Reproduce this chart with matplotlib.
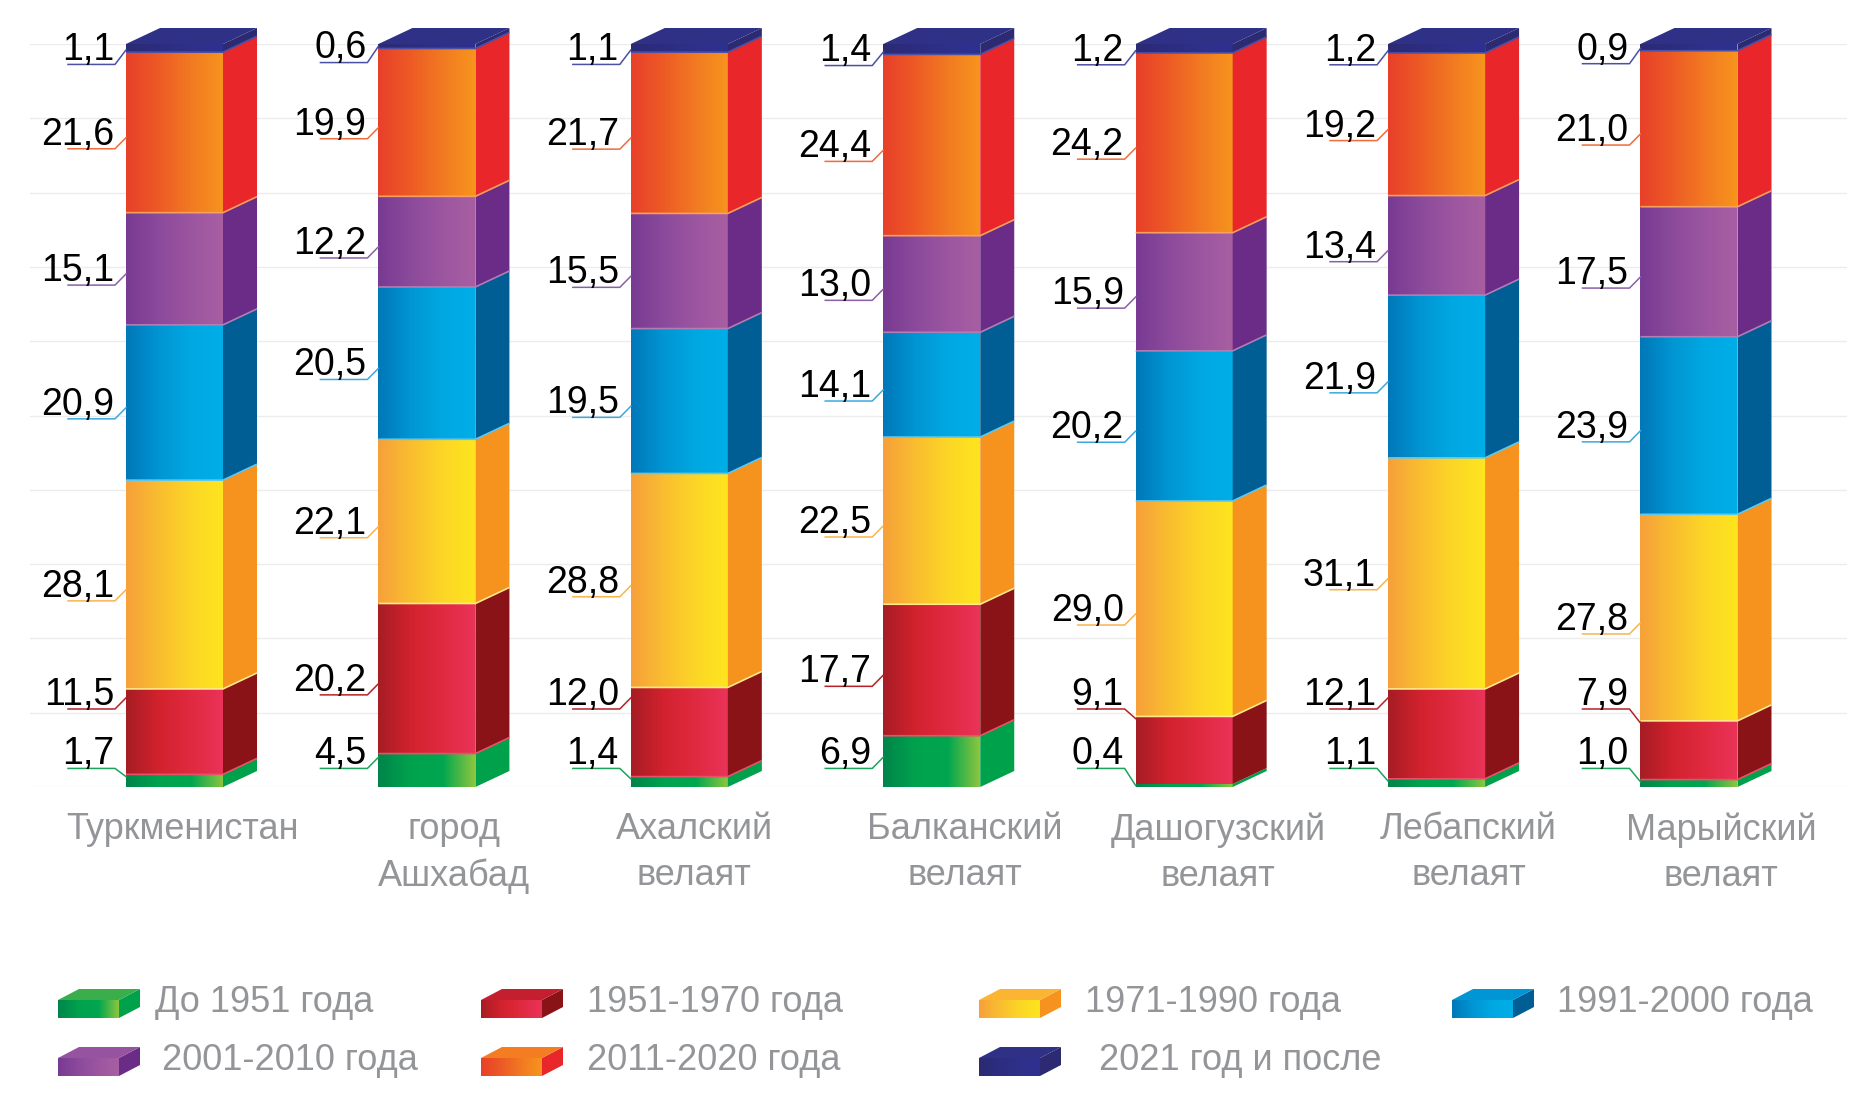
import numpy as np
import matplotlib
matplotlib.use('Agg')
import matplotlib.pyplot as plt
from matplotlib.colors import LinearSegmentedColormap
from matplotlib.patches import Polygon

plt.rcParams['font.family'] = ['Liberation Sans', 'DejaVu Sans']

regions = ['Туркменистан', 'город\nАшхабад', 'Ахалский\nвелаят', 'Балканский\nвелаят',
           'Дашогузский\nвелаят', 'Лебапский\nвелаят', 'Марыйский\nвелаят']

periods = ['До 1951 года', '1951-1970 года', '1971-1990 года', '1991-2000 года',
           '2001-2010 года', '2011-2020 года', '2021 год и после']

# share of housing by construction period, %
before_1951 = [1.7, 4.5, 1.4, 6.9, 0.4, 1.1, 1.0]
y1951_1970 = [11.5, 20.2, 12.0, 17.7, 9.1, 12.1, 7.9]
y1971_1990 = [28.1, 22.1, 28.8, 22.5, 29.0, 31.1, 27.8]
y1991_2000 = [20.9, 20.5, 19.5, 14.1, 20.2, 21.9, 23.9]
y2001_2010 = [15.1, 12.2, 15.5, 13.0, 15.9, 13.4, 17.5]
y2011_2020 = [21.6, 19.9, 21.7, 24.4, 24.2, 19.2, 21.0]
y2021_plus = [1.1, 0.6, 1.1, 1.4, 1.2, 1.2, 0.9]

series = [before_1951, y1951_1970, y1971_1990, y1991_2000, y2001_2010, y2011_2020, y2021_plus]

# front gradient (left -> right), side colour, leader line colour
front_grad = [
    ['#00844a', '#00a24e', '#00a650', '#8dc63f'],
    ['#a61d24', '#d2222e', '#e02a40', '#ea3359'],
    ['#f6a03a', '#f9bd30', '#fcd626', '#fee51f'],
    ['#0077b8', '#0095d3', '#00a8e2', '#00aee8'],
    ['#783a92', '#8b4a9b', '#9c56a0', '#a85fa2'],
    ['#e8402a', '#ed5a25', '#f27a22', '#f7941d'],
    ['#2b2a73', '#2c2d80', '#2e3089', '#2e3192'],
]
side_colors = ['#00a14b', '#8a1317', '#f6921e', '#005e95', '#6a2c87', '#e92629', '#2c2a70']
top_colors = ['#3aae4a', '#c41f2e', '#fbb533', '#0096d6', '#9553a0', '#f47d22', '#2e3186']
line_colors = ['#1aa35a', '#b52126', '#fbb34c', '#3aa9e0', '#8b5fa8', '#f26b3a', '#4b4fa6']
edge_colors = ['#8dc63f', '#e8506a', '#fde98a', '#5cc8f0', '#b27cb5', '#f9a05a', '#4a4fa8']

# horizontal shift of the region names from the bar centre, px
name_shift = [8, 27, 15, 33, 34, 32, 32]

W, H = 1867, 1111
fig = plt.figure(figsize=(W / 100, H / 100), dpi=100)
ax = fig.add_axes([30 / W, 324 / H, 1817 / W, 743 / H])

px_x = 1817 / 7.1985          # pixels per category unit
px_y = 7.43                    # pixels per percent
w = 97 / px_x
dx = 34 / px_x
dy = 16 / px_y

grad_x = np.linspace(0, 1, 256)

for i in range(len(regions)):
    x0 = i - w / 2
    x1 = i + w / 2
    b = 0.0
    prev = None
    for k, vals in enumerate(series):
        v = vals[i]
        t = b + v
        cmap = LinearSegmentedColormap.from_list('g%d' % k, front_grad[k])
        img = cmap(grad_x)[None, :, :3]
        ax.imshow(img, extent=[x0, x1, b, t], aspect='auto', interpolation='bilinear', zorder=2)
        ax.add_patch(Polygon([[x1, b], [x1 + dx, b + dy], [x1 + dx, t + dy], [x1, t]],
                             closed=True, facecolor=side_colors[k], edgecolor='none',
                             zorder=2, clip_on=False))
        if k < len(series) - 1 and v > 0.6:
            ax.plot([x0, x1, x1 + dx], [t, t, t + dy], color=edge_colors[k + 1], lw=1.2,
                    zorder=2.5, clip_on=False, solid_capstyle='butt')

        # value label with leader line
        mid = b + v / 2
        if k == 0:
            c = max(mid, 4.7)
        else:
            c = max(mid, prev + 8)
        prev = c
        u = c - 2.2
        m = min(0.3, v / 2)
        anchor = min(max(u + 1.5, b + m), t - m)
        ax.plot([x0 - 58 / px_x, x0 - 11 / px_x, x0], [u, u, anchor], color=line_colors[k],
                lw=1.1, zorder=3, clip_on=False)
        ax.text(x0 - 12 / px_x, u + 0.55, f'{v:.1f}'.replace('.', ','), ha='right',
                va='baseline', fontsize=27, color='black', zorder=4)
        b = t

    # top face
    ax.add_patch(Polygon([[x0, b], [x0 + dx, b + dy], [x1 + dx, b + dy], [x1, b]],
                         closed=True, facecolor=top_colors[-1], edgecolor='none',
                         zorder=2, clip_on=False))

    ax.text(i + name_shift[i] / px_x, -3.4, regions[i], ha='center', va='top', fontsize=26,
            color='#939598', linespacing=1.4)

ax.set_xlim(-0.5725, 6.626)
ax.set_ylim(0, 100)
ax.set_yticks(np.arange(0, 101, 10))
ax.set_xticks([])
ax.yaxis.grid(True, color='#ececec', lw=1)
ax.set_axisbelow(True)
ax.tick_params(left=False, labelleft=False)
for s in ax.spines.values():
    s.set_visible(False)

# legend drawn in pixel coordinates
lax = fig.add_axes([0, 0, 1, 1])
lax.set_xlim(0, W)
lax.set_ylim(H, 0)
lax.axis('off')

icon_x = [58, 481, 979, 1452, 58, 481, 979]
icon_y = [1000, 1000, 1000, 1000, 1058, 1058, 1058]
text_x = [155, 587, 1085, 1557, 162, 587, 1099]
iw, ih, idx, idy = 61, 18, 21, 11
for k, name in enumerate(periods):
    lx, ly = icon_x[k], icon_y[k]
    cmap = LinearSegmentedColormap.from_list('l%d' % k, front_grad[k])
    img = cmap(grad_x)[None, :, :3]
    lax.imshow(img, extent=[lx, lx + iw, ly + ih, ly], aspect='auto', interpolation='bilinear')
    lax.add_patch(Polygon([[lx + iw, ly], [lx + iw + idx, ly - idy], [lx + iw + idx, ly + ih - idy],
                           [lx + iw, ly + ih]], closed=True, facecolor=side_colors[k], edgecolor='none'))
    lax.add_patch(Polygon([[lx, ly], [lx + idx, ly - idy], [lx + iw + idx, ly - idy], [lx + iw, ly]],
                          closed=True, facecolor=top_colors[k], edgecolor='none'))
    lax.text(text_x[k], ly + 2, name, ha='left', va='center', fontsize=26, color='#939598')

lax.set_xlim(0, W)
lax.set_ylim(H, 0)

fig.savefig('out.png', dpi=100, facecolor='white')
